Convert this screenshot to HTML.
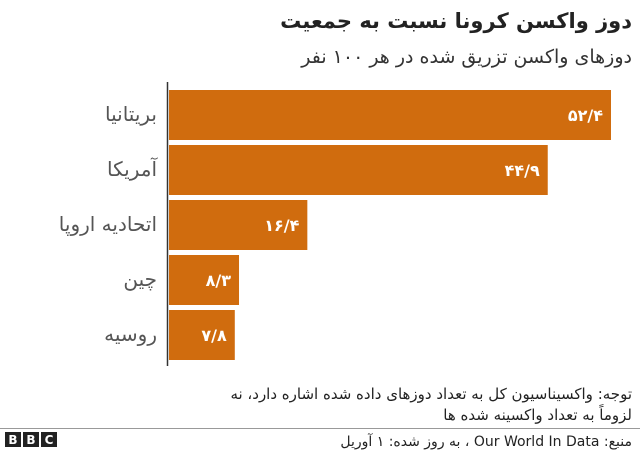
<!DOCTYPE html>
<html><head><meta charset="utf-8">
<style>
body{margin:0;width:640px;height:450px;background:#fff;overflow:hidden;font-family:"Liberation Sans","Noto Sans CJK SC",sans-serif;}
svg text{font-family:"DejaVu Sans","Liberation Sans",sans-serif;}
</style></head><body>
<svg id="chart" width="640" height="450" xmlns="http://www.w3.org/2000/svg">
<text x="632" y="28" text-anchor="start" font-size="21" font-weight="bold" fill="#222" direction="rtl">دوز واکسن کرونا نسبت به جمعیت</text>
<text x="632" y="63" text-anchor="start" font-size="19" fill="#333" direction="rtl">دوزهای واکسن تزریق شده در هر ۱۰۰ نفر</text>
<g id="bars"></g>
<line x1="167.5" y1="82" x2="167.5" y2="366" stroke="#333" stroke-width="1.5"/>
<text x="632" y="399" text-anchor="start" font-size="15" fill="#222" direction="rtl">توجه: واکسیناسیون کل به تعداد دوزهای داده شده اشاره دارد، نه</text>
<text x="632" y="420" text-anchor="start" font-size="15" fill="#222" direction="rtl">لزوماً به تعداد واکسینه شده ها</text>
<line x1="0" y1="428.5" x2="640" y2="428.5" stroke="#999" stroke-width="1"/>
<text x="632" y="446" text-anchor="start" font-size="14" fill="#222" direction="rtl">منبع: Our World In Data ، به روز شده: ۱ آوریل</text>
<g>
<rect x="5" y="432" width="16" height="15" fill="#222"/><rect x="23" y="432" width="16" height="15" fill="#222"/><rect x="41" y="432" width="16" height="15" fill="#222"/>
<text x="13" y="444" text-anchor="middle" font-size="12" font-weight="bold" fill="#fff">B</text>
<text x="31" y="444" text-anchor="middle" font-size="12" font-weight="bold" fill="#fff">B</text>
<text x="49" y="444" text-anchor="middle" font-size="12" font-weight="bold" fill="#fff">C</text>
</g>
</svg>
<script>
const categories=["بریتانیا","آمریکا","اتحادیه اروپا","چین","روسیه"];
const values=[52.4,44.9,16.4,8.3,7.8];
const x0=169, pxPerUnit=442/52.4, yTop=90, step=55, bh=50;
function xScale(v){return x0+v*pxPerUnit;}
function yScale(i){return yTop+i*step;}
function fa(v){const d="۰۱۲۳۴۵۶۷۸۹";return String(v).replace(/\d/g,c=>d[c]).replace(".","/");}
const g=document.getElementById('bars');const NS="http://www.w3.org/2000/svg";
categories.forEach((c,i)=>{
 const r=document.createElementNS(NS,'rect');
 r.setAttribute('x',x0);r.setAttribute('y',yScale(i));
 r.setAttribute('width',xScale(values[i])-x0);r.setAttribute('height',bh);r.setAttribute('fill','#d06c0e');
 
 
 g.appendChild(r);
 const t=document.createElementNS(NS,'text');
 t.setAttribute('x',xScale(values[i])-8);t.setAttribute('y',yScale(i)+bh/2+6);
 t.setAttribute('text-anchor','end');t.setAttribute('font-size','16');t.setAttribute('font-weight','bold');t.setAttribute('fill','#fff');
 t.textContent=fa(values[i]);
 
 
 g.appendChild(t);
 const l=document.createElementNS(NS,'text');
 l.setAttribute('x',157);l.setAttribute('y',yScale(i)+bh/2+6);
 l.setAttribute('text-anchor','start');l.setAttribute('font-size','20');l.setAttribute('fill','#555');l.setAttribute('direction','rtl');
 l.textContent=c;
 
 
 g.appendChild(l);
});
</script>
</body></html>
